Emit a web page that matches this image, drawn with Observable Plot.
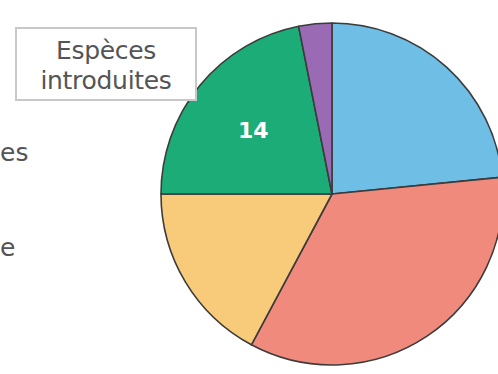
<!DOCTYPE html>
<html><head><meta charset="utf-8">
<script src="https://cdn.jsdelivr.net/npm/d3@7"></script>
<script src="https://cdn.jsdelivr.net/npm/@observablehq/plot@0.6"></script>
<style>
body{margin:0;background:#fff;overflow:hidden;}
#wrap{position:relative;width:498px;height:374px;overflow:hidden;background:#fff;}
#wrap svg{overflow:hidden;display:block;}
.legend{position:absolute;left:15px;top:27px;width:178px;border:2px solid #c8c8c8;background:#fff;
  font-family:"DejaVu Sans",sans-serif;font-size:25px;line-height:29.5px;color:#555;text-align:center;padding-top:7px;height:63px;box-sizing:content-box;letter-spacing:-0.3px;}
.lab{position:absolute;font-family:"DejaVu Sans",sans-serif;font-size:25px;line-height:normal;color:#555;}
</style>
</head><body>
<div id="wrap"></div>
<script>
// Data (clockwise from 12 o'clock)
const categories = ["Catégorie A", "Catégorie B", "Catégorie C", "Catégorie D", "Catégorie E"];
const values = [15, 22, 11, 14, 2];
const shownLabels = [null, null, null, "14", null];
const colors = ["#6fbee6", "#f08a7c", "#f8cb7b", "#1bac77", "#9a6bb4"];
const legendTitle = ["Espèces", "introduites"];
const sideLabels = ["es", "e"];

const arcs = d3.pie().sort(null).value(d => d)(values);
const labelR = 0.6;
const labelData = arcs.map((a, i) => {
  const mid = (a.startAngle + a.endAngle) / 2;
  return {x: labelR * Math.sin(mid), y: labelR * Math.cos(mid), text: shownLabels[i]};
}).filter(d => d.text);

function pieMark(index, scales) {
  const cx = scales.x(0), cy = scales.y(0);
  const r = scales.x(1) - scales.x(0);
  const g = d3.create("svg:g").attr("transform", `translate(${cx},${cy})`);
  const arc = d3.arc().innerRadius(0).outerRadius(r);
  g.selectAll("path").data(arcs).join("path")
    .attr("d", arc)
    .attr("fill", (d, i) => colors[i])
    .attr("stroke", "#3c3c3c")
    .attr("stroke-width", 1.6)
    .attr("stroke-linejoin", "round");
  return g.node();
}

const W = 498, H = 374;
const cxPx = 332, cyPx = 194, rPx = 171;
const plot = Plot.plot({
  width: W, height: H,
  marginLeft: cxPx - rPx, marginRight: 0,
  marginTop: cyPx - rPx, marginBottom: H - (cyPx + rPx),
  x: {domain: [-1, (W - cxPx) / rPx], axis: null},
  y: {domain: [-1, 1], axis: null},
  style: {background: "#fff", overflow: "hidden"},
  marks: [
    pieMark,
    Plot.text(labelData, {x: "x", y: "y", dy: 2, text: "text", fill: "white", fontSize: 22, fontWeight: "bold", fontFamily: "DejaVu Sans"})
  ]
});
const wrap = document.getElementById("wrap");
wrap.appendChild(plot);

const lg = document.createElement("div");
lg.className = "legend";
lg.innerHTML = legendTitle.map(t => `<div>${t}</div>`).join("");
wrap.appendChild(lg);

const l1 = document.createElement("div");
l1.className = "lab"; l1.textContent = sideLabels[0];
l1.style.left = "0px"; l1.style.top = "138px";
wrap.appendChild(l1);
const l2 = document.createElement("div");
l2.className = "lab"; l2.textContent = sideLabels[1];
l2.style.left = "0px"; l2.style.top = "233px";
wrap.appendChild(l2);
</script>
</body></html>
